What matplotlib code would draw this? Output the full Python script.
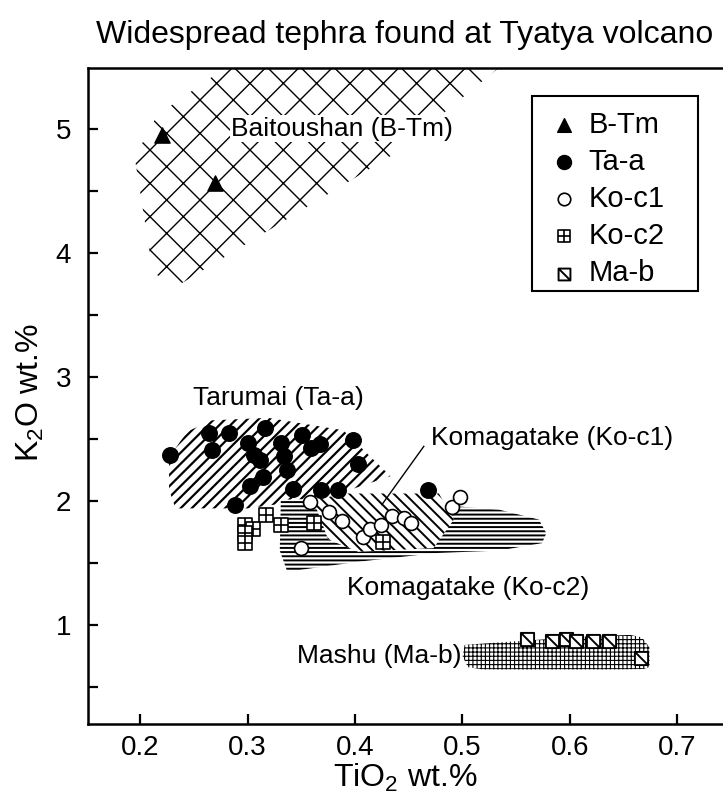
import matplotlib
matplotlib.use("Agg")
import matplotlib.pyplot as plt
from matplotlib.path import Path
from matplotlib.patches import Polygon, Rectangle

plt.rcParams['font.family'] = ['Liberation Sans', 'DejaVu Sans']
plt.rcParams['mathtext.fontset'] = 'custom'
plt.rcParams['mathtext.rm'] = 'Liberation Sans'

# --- data (TiO2, K2O wt.%) ---
btm_tio2 = [0.220, 0.270]
btm_k2o = [4.95, 4.56]

taa_tio2 = [0.228, 0.264, 0.283, 0.267, 0.316, 0.300, 0.306, 0.312, 0.314, 0.302, 0.288, 0.331,
            0.334, 0.337, 0.351, 0.359, 0.367, 0.398, 0.403, 0.342, 0.368, 0.384, 0.468]
taa_k2o = [2.37, 2.55, 2.55, 2.41, 2.59, 2.47, 2.37, 2.33, 2.19, 2.12, 1.97, 2.47,
           2.36, 2.25, 2.53, 2.43, 2.46, 2.49, 2.30, 2.10, 2.09, 2.09, 2.09]

koc1_tio2 = [0.358, 0.376, 0.388, 0.350, 0.407, 0.414, 0.424, 0.434, 0.446, 0.452, 0.490, 0.498]
koc1_k2o = [1.99, 1.91, 1.84, 1.62, 1.71, 1.77, 1.81, 1.88, 1.86, 1.82, 1.95, 2.03]

koc2_tio2 = [0.298, 0.305, 0.298, 0.298, 0.317, 0.331, 0.362, 0.426]
koc2_k2o = [1.81, 1.77, 1.74, 1.66, 1.89, 1.81, 1.82, 1.67]

mab_tio2 = [0.560, 0.583, 0.596, 0.606, 0.621, 0.636, 0.666]
mab_k2o = [0.89, 0.87, 0.89, 0.87, 0.87, 0.87, 0.73]

# compositional fields
btm_field = [(0.195, 4.77), (0.216, 5.11), (0.297, 5.60), (0.549, 5.60), (0.435, 4.79),
             (0.234, 3.73), (0.212, 3.84)]
taa_field = [(0.227, 2.35), (0.244, 2.56), (0.267, 2.65), (0.319, 2.67), (0.389, 2.57),
             (0.433, 2.20), (0.375, 2.03), (0.300, 1.94), (0.233, 1.94), (0.227, 2.09)]
koc2_field = [(0.331, 2.01), (0.375, 2.02), (0.475, 1.97), (0.534, 1.93), (0.571, 1.85),
              (0.578, 1.74), (0.574, 1.66), (0.534, 1.60), (0.475, 1.58), (0.403, 1.51),
              (0.337, 1.43), (0.330, 1.60)]
koc1_field = [(0.361, 2.01), (0.393, 2.06), (0.478, 2.06), (0.492, 1.85), (0.473, 1.62),
              (0.403, 1.59), (0.375, 1.69)]
mab_field = [(0.502, 0.84), (0.535, 0.86), (0.569, 0.88), (0.619, 0.91), (0.656, 0.92),
             (0.667, 0.90), (0.674, 0.82), (0.674, 0.66), (0.668, 0.645), (0.644, 0.642),
             (0.519, 0.642), (0.505, 0.66), (0.500, 0.75)]

legend_labels = ["B-Tm", "Ta-a", "Ko-c1", "Ko-c2", "Ma-b"]
x_ticks = [0.2, 0.3, 0.4, 0.5, 0.6, 0.7]
y_ticks = [1, 2, 3, 4, 5]
y_minor = [0.5, 1.5, 2.5, 3.5, 4.5]

W, H = 723, 794
fig = plt.figure(figsize=(W / 100, H / 100), dpi=100)
ax = fig.add_axes([88 / W, 70 / H, 640 / W, 656 / H])
ax.set_xlim(0.1516, 0.747)
ax.set_ylim(0.202, 5.49)


def add_field(verts, hatch, lw, z):
    with plt.rc_context({'hatch.linewidth': lw}):
        p = Polygon(verts, closed=True, facecolor='white', edgecolor='black',
                    linewidth=0, hatch=hatch, zorder=z)
        if hasattr(p, 'set_hatch_linewidth'):
            p.set_hatch_linewidth(lw)
        ax.add_patch(p)
    return p


add_field(btm_field, 'x', 1.0, 1)
add_field(taa_field, '///', 1.6, 1)
add_field(koc2_field, '----', 1.4, 2)
add_field(koc1_field, '\\\\\\', 1.4, 3)
add_field(mab_field, '++++', 0.8, 1)

# marker shapes
sq_plus = Path([(-1, -1), (1, -1), (1, 1), (-1, 1), (-1, -1), (0, -1), (0, 1), (-1, 0), (1, 0)],
               [Path.MOVETO, Path.LINETO, Path.LINETO, Path.LINETO, Path.CLOSEPOLY,
                Path.MOVETO, Path.LINETO, Path.MOVETO, Path.LINETO])
sq_diag = Path([(-1, -1), (1, -1), (1, 1), (-1, 1), (-1, -1), (-1, 1), (1, -1)],
               [Path.MOVETO, Path.LINETO, Path.LINETO, Path.LINETO, Path.CLOSEPOLY,
                Path.MOVETO, Path.LINETO])

h1 = ax.scatter(btm_tio2, btm_k2o, marker='^', s=120, c='black', zorder=5)
h2 = ax.scatter(taa_tio2, taa_k2o, marker='o', s=125, c='black', zorder=5)
h3 = ax.scatter(koc1_tio2, koc1_k2o, marker='o', s=100, facecolors='white',
                edgecolors='black', linewidths=1.2, zorder=6)
h4 = ax.scatter(koc2_tio2, koc2_k2o, marker=sq_plus, s=90, facecolors='white',
                edgecolors='black', linewidths=1.2, zorder=6)
h5 = ax.scatter(mab_tio2, mab_k2o, marker=sq_diag, s=90, facecolors='white',
                edgecolors='black', linewidths=1.4, zorder=6)

# field labels
lab = dict(fontsize=19, va='baseline', zorder=7)
ax.text(0.285, 4.944, "Baitoushan (B-Tm)", ha='left',
        bbox=dict(facecolor='white', edgecolor='none', pad=1), **lab)
ax.text(0.408, 2.774, "Tarumai (Ta-a)", ha='right', **lab)
ax.text(0.471, 2.45, "Komagatake (Ko-c1)", ha='left', **lab)
ax.text(0.393, 1.24, "Komagatake (Ko-c2)", ha='left', **lab)
ax.text(0.499, 0.694, "Mashu (Ma-b)", ha='right', **lab)
ax.plot([0.464, 0.425], [2.44, 1.97], color='black', lw=1.0, zorder=7)

# axes styling
for side in ['left', 'bottom', 'top']:
    ax.spines[side].set_linewidth(1.8)
ax.spines['right'].set_visible(False)
ax.set_xticks(x_ticks, [f"{v:.1f}" for v in x_ticks])
ax.set_yticks(y_ticks, [str(v) for v in y_ticks])
ax.set_yticks(y_minor, minor=True)
ax.tick_params(which='both', direction='in', length=7, width=1.6, labelsize=20)
ax.tick_params(axis='y', pad=12)
ax.tick_params(axis='x', pad=8)

# legend: box drawn separately so its size matches the original
ax.add_patch(Rectangle((532 / W, 1 - 291 / H), 166 / W, 195 / H, transform=fig.transFigure,
                       facecolor='white', edgecolor='black', linewidth=1.5, zorder=9,
                       clip_on=False))
leg = ax.legend([h1, h2, h3, h4, h5], legend_labels, loc='upper left',
                bbox_to_anchor=(549 / W, 1 - 111 / H), bbox_transform=fig.transFigure,
                frameon=False, fontsize=21, handlelength=1.0, handletextpad=0.35,
                borderpad=0, labelspacing=0.31, borderaxespad=0, scatterpoints=1,
                markerscale=0.9)
leg.set_zorder(10)

fig.text(405 / W, 1 - 35 / H, "Widespread tephra found at Tyatya volcano",
         ha='center', va='center', fontsize=23)
fig.text(405 / W, 1 - 778 / H, r"TiO$_\mathregular{2}$ wt.%", ha='center', va='center', fontsize=23)
fig.text(30 / W, 1 - 392 / H, r"K$_\mathregular{2}$O wt.%", ha='center', va='center',
         rotation=90, fontsize=23)

fig.savefig("out.png", dpi=100)
